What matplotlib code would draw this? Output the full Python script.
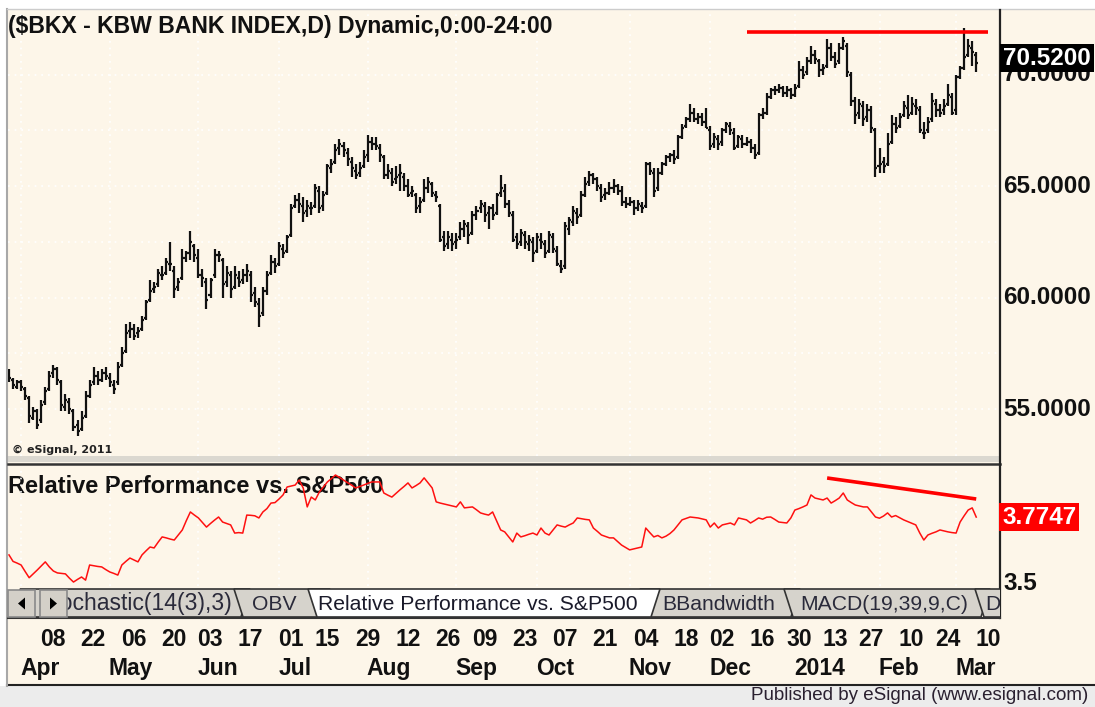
import numpy as np
import pandas as pd
import matplotlib
matplotlib.use("Agg")
import matplotlib.pyplot as plt
from matplotlib.collections import LineCollection
from matplotlib.patches import Rectangle, Polygon
from matplotlib.transforms import blended_transform_factory, offset_copy

plt.rcParams['font.family'] = ['Liberation Sans', 'DejaVu Sans']

# ----------------------------
# data ($BKX daily bars)
# ----------------------------

START = '2013-03-26'
END = '2014-03-14'   # a few empty sessions after the last bar
HOLIDAYS = ['2013-03-29', '2013-05-27', '2013-07-04', '2013-09-02', '2013-11-28',
            '2013-12-25', '2014-01-01', '2014-01-20', '2014-02-17']

OPEN = [
    56.6, 56.3, 56.0, 56.2, 55.9, 55.5, 54.6, 54.9, 54.5, 55.3,
    55.9, 56.6, 56.8, 56.2, 55.1, 55.3, 54.9, 54.3, 54.1, 54.7,
    55.6, 56.2, 56.5, 56.3, 56.6, 56.4, 56.1, 56.2, 57.0, 57.6,
    58.5, 58.6, 58.4, 58.6, 59.1, 59.9, 60.4, 60.6, 61.0, 61.1,
    61.5, 61.2, 60.5, 60.9, 61.8, 62.0, 62.3, 61.8, 61.0, 60.7,
    60.1, 61.0, 61.9, 61.7, 60.7, 61.0, 60.5, 60.9, 60.8, 61.0,
    61.0, 60.2, 59.7, 59.3, 60.3, 61.1, 61.6, 61.5, 62.2, 62.1,
    62.8, 64.1, 64.4, 64.1, 63.9, 64.0, 64.1, 64.8, 64.1, 64.7,
    65.8, 66.1, 66.7, 66.8, 66.5, 66.1, 65.7, 65.6, 65.9, 66.4,
    67.0, 66.9, 66.7, 66.3, 65.5, 65.6, 65.3, 65.5, 65.4, 65.0,
    64.7, 64.6, 64.1, 64.4, 64.9, 65.1, 64.6, 64.1, 62.7, 62.4,
    62.6, 62.5, 62.7, 63.1, 63.2, 62.9, 63.7, 64.0, 64.1, 63.8,
    64.0, 63.8, 64.7, 64.8, 64.2, 63.7, 62.7, 62.5, 62.8, 62.4,
    62.5, 62.1, 62.6, 62.4, 62.1, 62.7, 62.1, 61.4, 61.4, 63.1,
    63.4, 63.8, 63.7, 64.6, 65.2, 65.5, 65.3, 64.9, 64.6, 64.7,
    64.9, 65.0, 64.8, 64.3, 64.2, 64.3, 64.0, 64.1, 64.1, 66.0,
    65.6, 64.9, 65.6, 66.0, 66.3, 66.4, 66.3, 67.2, 67.7, 68.0,
    68.3, 68.0, 68.1, 67.9, 67.5, 66.9, 67.1, 67.0, 67.5, 67.7,
    67.4, 66.8, 67.1, 66.9, 67.0, 66.7, 66.5, 68.2, 68.3, 69.0,
    69.3, 69.3, 69.4, 69.2, 69.3, 69.1, 69.5, 70.2, 70.1, 70.6,
    70.9, 70.6, 70.2, 70.4, 71.2, 70.8, 70.6, 71.2, 71.3, 70.0,
    68.8, 68.3, 68.6, 68.1, 68.4, 67.5, 65.9, 66.1, 66.0, 67.0,
    67.8, 67.7, 68.2, 68.5, 68.3, 68.6, 68.4, 67.4, 67.5, 68.0,
    68.7, 68.4, 68.4, 68.7, 69.0, 68.4, 69.9, 70.3, 70.9, 71.2,
    70.9,
]
HIGH = [
    56.8, 56.4, 56.3, 56.3, 56.0, 55.6, 55.1, 55.0, 55.4, 56.0,
    56.7, 57.0, 56.9, 56.3, 55.7, 55.5, 55.0, 54.5, 54.9, 55.8,
    56.3, 56.9, 56.7, 56.8, 56.9, 56.6, 56.3, 57.1, 57.8, 58.8,
    58.9, 58.8, 58.7, 59.2, 59.9, 60.8, 60.7, 61.3, 61.4, 61.8,
    62.5, 61.4, 60.9, 62.2, 62.1, 63.0, 62.4, 62.2, 61.3, 60.9,
    60.9, 62.2, 62.1, 61.8, 61.4, 61.2, 61.4, 61.2, 61.3, 61.5,
    61.2, 60.5, 60.0, 60.5, 61.2, 61.9, 61.8, 62.5, 62.4, 62.8,
    64.2, 64.6, 64.7, 64.5, 64.4, 64.3, 65.1, 65.0, 64.8, 66.0,
    66.2, 66.9, 67.1, 67.0, 66.7, 66.3, 66.0, 66.1, 66.6, 67.3,
    67.2, 67.2, 66.9, 66.4, 66.0, 65.8, 65.9, 66.0, 65.6, 65.3,
    65.0, 64.7, 64.5, 65.3, 65.4, 65.2, 64.8, 64.2, 63.0, 63.0,
    62.9, 62.9, 63.4, 63.5, 63.4, 63.9, 64.1, 64.4, 64.3, 64.1,
    64.2, 64.7, 65.5, 65.1, 64.4, 63.9, 62.9, 63.1, 63.0, 62.8,
    62.7, 62.9, 62.9, 62.6, 63.0, 62.9, 62.3, 61.7, 63.4, 63.6,
    64.1, 64.0, 64.8, 65.4, 65.7, 65.6, 65.4, 65.1, 64.9, 65.2,
    65.3, 65.1, 65.0, 64.5, 64.5, 64.4, 64.4, 64.3, 66.1, 66.1,
    65.8, 65.8, 66.1, 66.4, 66.5, 66.6, 67.3, 67.8, 68.1, 68.7,
    68.5, 68.3, 68.3, 68.5, 67.7, 67.4, 67.3, 67.6, 67.9, 67.9,
    67.6, 67.3, 67.3, 67.2, 67.1, 66.9, 68.3, 68.5, 69.2, 69.4,
    69.5, 69.6, 69.5, 69.5, 69.4, 69.6, 70.6, 70.4, 70.8, 71.3,
    71.1, 70.7, 70.5, 71.6, 71.4, 71.0, 71.4, 71.7, 71.4, 70.1,
    69.0, 68.9, 68.8, 68.7, 68.6, 67.6, 66.7, 66.3, 67.4, 68.2,
    68.1, 68.3, 68.8, 69.1, 69.0, 68.9, 68.6, 67.9, 68.1, 69.2,
    68.9, 68.7, 68.9, 69.6, 69.2, 70.0, 70.4, 72.1, 71.6, 71.5,
    71.0,
]
LOW = [
    56.2, 55.9, 55.9, 55.8, 55.4, 54.4, 54.5, 54.1, 54.4, 55.2,
    55.8, 56.4, 56.1, 54.9, 54.9, 54.8, 54.0, 53.8, 54.0, 54.6,
    55.5, 56.1, 56.1, 56.2, 56.3, 56.0, 55.7, 56.1, 56.9, 57.5,
    58.2, 58.1, 58.2, 58.5, 59.0, 59.8, 60.2, 60.5, 60.8, 61.0,
    61.2, 60.0, 60.3, 60.8, 61.6, 61.7, 61.6, 60.9, 60.5, 59.5,
    60.0, 60.9, 61.6, 60.0, 60.5, 60.0, 60.4, 60.5, 60.6, 60.7,
    59.8, 59.6, 58.7, 59.2, 60.1, 61.0, 61.1, 61.4, 61.8, 62.0,
    62.7, 64.0, 63.8, 63.4, 63.6, 63.7, 64.0, 63.8, 63.9, 64.6,
    65.6, 66.0, 66.4, 66.3, 65.9, 65.4, 65.3, 65.4, 65.8, 66.1,
    66.6, 66.6, 66.1, 65.3, 65.3, 65.0, 65.1, 64.8, 64.8, 64.5,
    64.5, 63.8, 63.8, 64.3, 64.7, 64.5, 64.3, 62.5, 62.1, 62.2,
    62.1, 62.2, 62.6, 62.7, 62.4, 62.8, 63.5, 63.8, 63.4, 63.1,
    63.5, 63.7, 64.5, 64.0, 63.6, 62.5, 62.2, 62.3, 62.2, 62.1,
    61.6, 62.0, 62.2, 61.8, 62.0, 62.0, 61.4, 61.1, 61.3, 62.8,
    63.2, 63.3, 63.6, 64.5, 65.0, 65.1, 64.8, 64.3, 64.4, 64.6,
    64.7, 64.6, 64.1, 64.0, 64.1, 63.7, 63.9, 63.8, 64.0, 65.5,
    64.5, 64.8, 65.5, 65.9, 66.1, 66.0, 66.2, 67.1, 67.6, 67.9,
    67.9, 67.8, 67.7, 67.6, 66.6, 66.7, 66.6, 66.8, 67.4, 67.3,
    66.6, 66.7, 66.7, 66.8, 66.5, 66.2, 66.4, 68.0, 68.2, 68.9,
    69.1, 69.2, 69.0, 69.0, 68.9, 69.0, 69.4, 69.8, 70.0, 70.5,
    70.5, 69.9, 70.0, 70.3, 70.6, 70.3, 70.5, 71.1, 69.9, 68.6,
    67.8, 68.0, 67.7, 67.9, 67.4, 65.4, 65.6, 65.6, 65.9, 66.9,
    67.4, 67.6, 68.1, 68.0, 68.2, 68.2, 67.4, 67.1, 67.4, 67.9,
    68.1, 68.1, 68.2, 68.6, 68.2, 68.2, 69.8, 70.2, 70.8, 70.4,
    70.1,
]
CLOSE = [
    56.4, 56.1, 56.2, 56.0, 55.6, 54.7, 54.9, 54.3, 55.2, 55.8,
    56.5, 56.8, 56.3, 55.2, 55.4, 55.0, 54.2, 54.0, 54.6, 55.6,
    56.1, 56.5, 56.3, 56.6, 56.5, 56.2, 55.9, 56.9, 57.5, 58.4,
    58.6, 58.3, 58.5, 59.0, 59.8, 60.3, 60.5, 61.1, 61.0, 61.6,
    61.5, 60.4, 60.7, 61.8, 62.0, 62.5, 61.9, 61.0, 60.9, 59.9,
    60.8, 61.9, 61.9, 60.6, 61.1, 60.4, 61.0, 60.7, 61.0, 61.2,
    60.1, 59.8, 59.2, 60.3, 61.0, 61.6, 61.4, 62.3, 62.0, 62.7,
    64.0, 64.4, 64.2, 63.8, 64.1, 64.0, 64.9, 64.0, 64.6, 65.9,
    66.0, 66.6, 66.9, 66.6, 66.2, 65.8, 65.5, 65.8, 66.3, 67.0,
    66.9, 66.8, 66.4, 65.5, 65.7, 65.2, 65.4, 65.6, 65.0, 64.6,
    64.8, 64.0, 64.3, 64.9, 65.2, 64.7, 64.5, 62.6, 62.3, 62.7,
    62.4, 62.6, 63.1, 63.3, 62.8, 63.7, 63.9, 64.2, 63.7, 64.0,
    63.7, 64.6, 64.9, 64.2, 63.8, 62.6, 62.4, 62.9, 62.5, 62.6,
    62.0, 62.7, 62.5, 62.0, 62.8, 62.2, 61.5, 61.3, 63.2, 63.5,
    63.9, 63.6, 64.6, 65.1, 65.5, 65.3, 65.0, 64.5, 64.7, 64.9,
    65.0, 64.8, 64.3, 64.2, 64.3, 64.0, 64.2, 64.0, 66.0, 65.7,
    64.8, 65.6, 66.0, 66.3, 66.4, 66.2, 67.2, 67.6, 68.0, 68.3,
    68.0, 68.1, 67.9, 67.6, 66.8, 67.2, 66.9, 67.5, 67.8, 67.5,
    66.7, 67.2, 66.9, 67.0, 66.7, 66.4, 68.2, 68.3, 69.0, 69.3,
    69.3, 69.4, 69.2, 69.3, 69.1, 69.4, 70.2, 70.0, 70.6, 70.9,
    70.7, 70.2, 70.3, 71.2, 70.8, 70.5, 71.2, 71.5, 70.1, 68.8,
    68.2, 68.7, 68.0, 68.4, 67.6, 65.8, 66.0, 65.9, 66.9, 67.8,
    67.6, 68.1, 68.6, 68.2, 68.7, 68.5, 67.5, 67.4, 67.9, 68.8,
    68.4, 68.3, 68.6, 69.1, 68.3, 69.9, 70.3, 70.8, 71.3, 71.0,
    70.52,
]

# relative performance vs. S&P500
REL = [
    3.617, 3.590, 3.583, 3.575, 3.548, 3.522, 3.538, 3.554, 3.571, 3.588,
    3.567, 3.550, 3.542, 3.540, 3.538, 3.520, 3.504, 3.515, 3.525, 3.512,
    3.575, 3.572, 3.569, 3.567, 3.556, 3.546, 3.540, 3.533, 3.575, 3.590,
    3.604, 3.596, 3.588, 3.617, 3.634, 3.650, 3.646, 3.670, 3.692, 3.688,
    3.683, 3.679, 3.700, 3.721, 3.760, 3.796, 3.783, 3.771, 3.752, 3.733,
    3.748, 3.762, 3.775, 3.754, 3.748, 3.742, 3.708, 3.710, 3.708, 3.783,
    3.782, 3.780, 3.771, 3.796, 3.810, 3.833, 3.835, 3.850, 3.867, 3.900,
    3.904, 3.908, 3.929, 3.896, 3.817, 3.858, 3.846, 3.879, 3.900, 3.921,
    3.935, 3.950, 3.940, 3.929, 3.918, 3.908, 3.896, 3.902, 3.908, 3.915,
    3.921, 3.921, 3.921, 3.875, 3.866, 3.858, 3.873, 3.888, 3.902, 3.917,
    3.896, 3.906, 3.917, 3.938, 3.917, 3.896, 3.838, 3.833, 3.829, 3.825,
    3.821, 3.817, 3.838, 3.813, 3.815, 3.817, 3.805, 3.792, 3.787, 3.783,
    3.796, 3.758, 3.721, 3.713, 3.692, 3.671, 3.708, 3.692, 3.697, 3.703,
    3.708, 3.700, 3.729, 3.708, 3.700, 3.721, 3.742, 3.737, 3.733, 3.742,
    3.750, 3.771, 3.768, 3.765, 3.763, 3.729, 3.715, 3.700, 3.694, 3.688,
    3.688, 3.673, 3.658, 3.648, 3.638, 3.642, 3.646, 3.650, 3.729, 3.710,
    3.692, 3.698, 3.688, 3.695, 3.706, 3.721, 3.742, 3.763, 3.769, 3.775,
    3.773, 3.771, 3.767, 3.763, 3.733, 3.750, 3.729, 3.742, 3.746, 3.750,
    3.742, 3.771, 3.767, 3.763, 3.750, 3.760, 3.771, 3.766, 3.774, 3.775,
    3.765, 3.754, 3.752, 3.750, 3.771, 3.804, 3.810, 3.817, 3.825, 3.867,
    3.854, 3.850, 3.846, 3.854, 3.833, 3.843, 3.854, 3.875, 3.846, 3.835,
    3.825, 3.821, 3.817, 3.817, 3.796, 3.775, 3.770, 3.779, 3.792, 3.775,
    3.781, 3.772, 3.763, 3.756, 3.749, 3.742, 3.708, 3.679, 3.700, 3.707,
    3.713, 3.721, 3.717, 3.713, 3.710, 3.708, 3.754, 3.780, 3.804, 3.813,
    3.7747,
]

LAST_PRICE = 70.52
LAST_REL = 3.7747

# hand drawn trend lines
RESIST_DATES = ['2013-12-13', '2014-03-13']
RESIST_VALUES = [71.93, 71.93]
REL_TREND_DATES = ['2014-01-14', '2014-03-10']
REL_TREND_VALUES = [3.9375, 3.85]

DAY_TICKS = ['2013-04-08', '2013-04-22', '2013-05-06', '2013-05-20', '2013-06-03',
             '2013-06-17', '2013-07-01', '2013-07-15', '2013-07-29', '2013-08-12',
             '2013-08-26', '2013-09-09', '2013-09-23', '2013-10-07', '2013-10-21',
             '2013-11-04', '2013-11-18', '2013-12-02', '2013-12-16', '2013-12-30',
             '2014-01-13', '2014-01-27', '2014-02-10', '2014-02-24', '2014-03-10']
MONTH_LABELS = ['Apr', 'May', 'Jun', 'Jul', 'Aug', 'Sep', 'Oct', 'Nov', 'Dec',
                '2014', 'Feb', 'Mar']

PRICE_TICKS = [55, 60, 65, 70]
PRICE_GRID = [55, 57.5, 60, 62.5, 65, 67.5, 70]
REL_TICKS = [3.5]

TITLE = '($BKX - KBW BANK INDEX,D) Dynamic,0:00-24:00'
STUDY = 'Relative Performance vs. S&P500'
TABS = ['Stochastic(14(3),3)', 'OBV', 'Relative Performance vs. S&P500',
        'BBandwidth', 'MACD(19,39,9,C)', 'D']


# ----------------------------
# layout helpers
# ----------------------------

W, H = 1095, 707
CREAM = '#fdf6e9'
INK = '#111111'


def box(x0, y0, x1, y1):
    return [x0 / W, 1 - y1 / H, (x1 - x0) / W, (y1 - y0) / H]


sessions = pd.bdate_range(START, END)
sessions = sessions[~sessions.isin(pd.to_datetime(HOLIDAYS))]
slot = {d: i for i, d in enumerate(sessions)}
n = len(CLOSE)
x = np.arange(n)


def pos(dates):
    return [slot[pd.Timestamp(d)] for d in dates]


month_starts = [i for i in range(1, n) if sessions[i].month != sessions[i - 1].month]

fig = plt.figure(figsize=(W / 100, H / 100), dpi=100, facecolor='white')

# ----------------------------
# window chrome (pixel coordinates)
# ----------------------------
bg = fig.add_axes([0, 0, 1, 1], zorder=0)
bg.set_xlim(0, W)
bg.set_ylim(H, 0)
bg.axis('off')
bg.add_patch(Rectangle((8, 10), W - 8, 675, fc=CREAM, ec='none'))
bg.add_patch(Rectangle((0, 686), W, 21, fc='#ececec', ec='none'))
bg.plot([7, W], [685, 685], color='#222222', lw=1.5)
bg.plot([7, 7], [9, 686], color='#a8a8a8', lw=1.5)
bg.plot([7, W], [9, 9], color='#cccccc', lw=1)
bg.add_patch(Rectangle((8, 456), 992, 6, fc='#dbd8d0', ec='none'))
bg.plot([8, 1000], [463.5, 463.5], color='#333333', lw=1.8)
bg.plot([1000, 1000], [10, 618], color='#222222', lw=1.6)

# title sits above the grid of the price panel
fig.text(8 / W, 1 - 33 / H, TITLE, fontsize=16.6, fontweight='bold', color=INK,
         va='baseline', zorder=5)
bg.text(8, 493, STUDY, fontsize=17.0, fontweight='bold', color=INK, va='baseline', zorder=5)
fig.text(12 / W, 1 - 453 / H, '\u00a9 eSignal, 2011', fontsize=8, fontweight='bold',
         color='#222222', family='DejaVu Sans', va='baseline', zorder=5)
bg.text(1088, 700, 'Published by eSignal (www.esignal.com)', fontsize=13.5,
        color='#2a2030', ha='right', va='baseline')

# ----------------------------
# price panel
# ----------------------------
XLIM = (-0.25, 245.9)
ax = fig.add_axes(box(8, 10, 1000, 456), zorder=2)
ax.patch.set_visible(False)
ax.set_xlim(*XLIM)
ax.set_ylim(52.9, 72.9)
ax.axis('off')

for m in month_starts:
    ax.axvline(m, color='white', lw=1.2, ls=(0, (1, 3)), zorder=1)
for v in PRICE_GRID:
    ax.axhline(v, color='white', lw=1.2, ls=(0, (1, 3)), zorder=1)

segs = [[(i, LOW[i]), (i, HIGH[i])] for i in x]
segs += [[(i - 0.5, OPEN[i]), (i, OPEN[i])] for i in x]
segs += [[(i, CLOSE[i]), (i + 0.5, CLOSE[i])] for i in x]
ax.add_collection(LineCollection(segs, colors=INK, linewidths=1.6, capstyle='butt', zorder=3))

ax.plot(pos(RESIST_DATES), RESIST_VALUES, color='#ff0000', lw=2.6,
        solid_capstyle='butt', zorder=4)

ytr = blended_transform_factory(ax.transAxes, ax.transData)
for v in PRICE_TICKS:
    ax.text(1.003, v, f'{v:.4f}', transform=ytr, ha='left', va='center',
            fontsize=17.5, fontweight='bold', color=INK, clip_on=False)
ax.text(1.003, LAST_PRICE, f'{LAST_PRICE:.4f}',
        transform=offset_copy(ytr, fig=fig, y=5, units='dots'),
        ha='left', va='center', fontsize=17.5, fontweight='bold', color='white',
        clip_on=False, zorder=6,
        bbox=dict(boxstyle='square,pad=0.12', fc='black', ec='none'))

# ----------------------------
# relative performance panel
# ----------------------------
ar = fig.add_axes(box(8, 466, 1000, 586), zorder=2)
ar.patch.set_visible(False)
ar.set_xlim(*XLIM)
ar.set_ylim(3.4875, 3.9875)
ar.axis('off')

for m in month_starts:
    ar.axvline(m, color='white', lw=1.2, ls=(0, (1, 3)), zorder=1)

ar.plot(x, REL, color='#ff1010', lw=1.1, zorder=3)
ar.plot(pos(REL_TREND_DATES), REL_TREND_VALUES, color='#ff0000', lw=2.6,
        solid_capstyle='butt', zorder=4)

rtr = blended_transform_factory(ar.transAxes, ar.transData)
for v in REL_TICKS:
    ar.text(1.003, v, f'{v:g}', transform=rtr, ha='left', va='center',
            fontsize=17.5, fontweight='bold', color=INK, clip_on=False)
ar.text(1.002, LAST_REL, f'{LAST_REL:.4f}', transform=rtr, ha='left', va='center',
        fontsize=17.5, fontweight='bold', color='white', clip_on=False, zorder=6,
        bbox=dict(boxstyle='square,pad=0.12', fc='#ff0000', ec='none'))

# ----------------------------
# study tabs
# ----------------------------
clip = Rectangle((8, 585), 992, 40, transform=bg.transData)
clip_first = Rectangle((67, 585), 200, 40, transform=bg.transData)
TOP, BOT, SLANT = 589, 617, 9
TAB_SPANS = [(20, 250), (234, 330), (308, 660), (640, 800), (784, 990), (975, 1060)]
TEXT_X = [233, 252, 318, 662, 800, 985]
TEXT_SIZE = [16.6, 15.2, 15.2, 15.2, 15.2, 15.2]
ACTIVE = 2
order = [0, 1, 3, 4, 5, ACTIVE]
for k in order:
    x0, x1 = TAB_SPANS[k]
    face = 'white' if k == ACTIVE else '#d6d3cc'
    poly = Polygon([(x0, TOP), (x1, TOP), (x1 - SLANT, BOT), (x0 + SLANT, BOT)], closed=True,
                   fc=face, ec='#333333', lw=1.2, zorder=2 + order.index(k))
    bg.add_patch(poly)
    poly.set_clip_path(clip)
    t = bg.text(TEXT_X[k], 610, TABS[k], fontsize=TEXT_SIZE[k],
                color='#1a1a2a' if k == ACTIVE else '#2a2a3a',
                ha='right' if k == 0 else 'left', va='baseline', zorder=2 + order.index(k))
    t.set_clip_path(clip_first if k == 0 else clip)
bg.plot([8, 1000], [618, 618], color='#333333', lw=1.5, zorder=9)

for bx, tri in [(8, [(18, 603.5), (25, 597.5), (25, 609.5)]),
                (40, [(57, 603.5), (50, 597.5), (50, 609.5)])]:
    bg.add_patch(Rectangle((bx, 590), 27, 27, fc='#d4d0c8', ec='#8a8a8a', lw=1.2, zorder=10))
    bg.add_patch(Polygon(tri, closed=True, fc='black', ec='none', zorder=11))

# ----------------------------
# date axis
# ----------------------------
dtr = blended_transform_factory(ar.transData, bg.transData)
for d, i in zip(DAY_TICKS, pos(DAY_TICKS)):
    bg.text(i - 0.2, 646, pd.Timestamp(d).strftime('%d'), transform=dtr,
            fontsize=16.5, fontweight='bold', color=INK, ha='left', va='baseline')
for lab, i in zip(MONTH_LABELS, month_starts):
    bg.text(i - 0.2, 675, lab, transform=dtr,
            fontsize=16.5, fontweight='bold', color=INK, ha='left', va='baseline')

fig.savefig('out.png', dpi=100, facecolor=fig.get_facecolor())
